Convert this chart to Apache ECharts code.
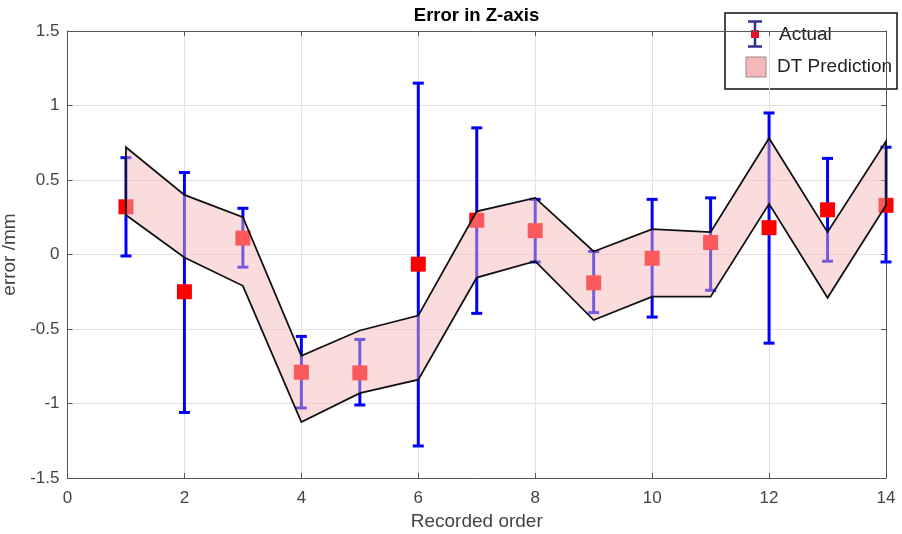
<!DOCTYPE html>
<html>
<head>
<meta charset="utf-8">
<script src="https://cdn.jsdelivr.net/npm/echarts@6/dist/echarts.min.js"></script>
<style>
html,body{margin:0;padding:0;background:#fff;}
#c{width:902px;height:534px;}
</style>
</head>
<body>
<div id="c"></div>
<script>
// ---- data ----
var order = [1,2,3,4,5,6,7,8,9,10,11,12,13,14];
var actual = [0.32,-0.25,0.11,-0.79,-0.795,-0.065,0.23,0.16,-0.19,-0.025,0.08,0.18,0.30,0.33];
var errHigh = [0.65,0.55,0.31,-0.55,-0.57,1.15,0.85,0.37,0.02,0.37,0.38,0.95,0.645,0.72];
var errLow = [-0.01,-1.06,-0.085,-1.03,-1.01,-1.285,-0.395,-0.05,-0.39,-0.42,-0.24,-0.595,-0.045,-0.05];
var predHigh = [0.72,0.40,0.25,-0.68,-0.51,-0.41,0.29,0.38,0.02,0.17,0.15,0.78,0.15,0.76];
var predLow = [0.265,-0.02,-0.21,-1.125,-0.93,-0.84,-0.155,-0.045,-0.44,-0.283,-0.283,0.34,-0.29,0.33];
var xTicks = [0,2,4,6,8,10,12,14];
var yTicks = [-1.5,-1,-0.5,0,0.5,1,1.5];
var titleText = 'Error in Z-axis';
var xName = 'Recorded order';
var yName = 'error /mm';
var legendNames = ['Actual','DT Prediction'];

var FONT = "'Liberation Sans', Arial, Helvetica, sans-serif";
var AX = '#555555';
var LBL = '#444444';

var chart = echarts.init(document.getElementById('c'), null, {renderer:'canvas'});

var xMin = xTicks[0], xMax = xTicks[xTicks.length-1], xInt = xTicks[1]-xTicks[0];
var yMin = yTicks[0], yMax = yTicks[yTicks.length-1], yInt = yTicks[1]-yTicks[0];

function baseAxisCommon(){
  return {
    axisLine:{show:true, onZero:false, lineStyle:{color:AX, width:1}},
    axisTick:{show:true, inside:true, length:5, lineStyle:{color:AX, width:1}}
  };
}

var option = {
  animation:false,
  backgroundColor:'#ffffff',
  grid:{left:67.5, right:16, top:31, bottom:56, containLabel:false, outerBoundsMode:'none'},
  xAxis:[
    Object.assign({
      type:'value', min:xMin, max:xMax, interval:xInt, position:'bottom',
      name:xName, nameLocation:'middle', nameGap:33,
      nameTextStyle:{fontFamily:FONT, fontSize:19, color:LBL},
      axisLabel:{fontFamily:FONT, fontSize:17, color:LBL, margin:12},
      splitLine:{show:true, lineStyle:{color:'#e3e3e3', width:1}}
    }, baseAxisCommon()),
    Object.assign({
      type:'value', min:xMin, max:xMax, interval:xInt, position:'top',
      axisLabel:{show:false}, splitLine:{show:false}
    }, baseAxisCommon())
  ],
  yAxis:[
    Object.assign({
      type:'value', min:yMin, max:yMax, interval:yInt, position:'left',
      name:yName, nameLocation:'middle', nameGap:40, nameRotate:90,
      nameTextStyle:{fontFamily:FONT, fontSize:19, color:LBL},
      axisLabel:{fontFamily:FONT, fontSize:17, color:LBL, margin:8},
      splitLine:{show:true, lineStyle:{color:'#e3e3e3', width:1}}
    }, baseAxisCommon()),
    Object.assign({
      type:'value', min:yMin, max:yMax, interval:yInt, position:'right',
      axisLabel:{show:false}, splitLine:{show:false}
    }, baseAxisCommon())
  ],
  series:[
    {
      type:'custom', name:legendNames[0], z:2,
      data: order.map(function(x,i){return [x, errLow[i], errHigh[i]];}),
      encode:{x:0, y:[1,2]},
      renderItem:function(params, api){
        var x = api.value(0);
        var lo = api.coord([x, api.value(1)]);
        var hi = api.coord([x, api.value(2)]);
        var hw = 5.5;
        var st = {stroke:'#0000ff', lineWidth:3};
        return {type:'group', children:[
          {type:'line', shape:{x1:lo[0], y1:lo[1], x2:hi[0], y2:hi[1]}, style:st},
          {type:'line', shape:{x1:lo[0]-hw, y1:lo[1], x2:lo[0]+hw, y2:lo[1]}, style:st},
          {type:'line', shape:{x1:hi[0]-hw, y1:hi[1], x2:hi[0]+hw, y2:hi[1]}, style:st}
        ]};
      }
    },
    {
      type:'scatter', name:legendNames[0], z:3,
      symbol:'rect', symbolSize:15,
      itemStyle:{color:'#ff0000', opacity:1},
      data: order.map(function(x,i){return [x, actual[i]];})
    },
    {
      type:'custom', name:legendNames[1], z:4,
      data: order.map(function(x,i){return [x, predLow[i], predHigh[i]];}),
      encode:{x:0, y:[1,2]},
      renderItem:function(params, api){
        if (params.dataIndex !== 0) return null;
        var pts = [];
        for (var i=0;i<order.length;i++) pts.push(api.coord([order[i], predHigh[i]]));
        for (var j=order.length-1;j>=0;j--) pts.push(api.coord([order[j], predLow[j]]));
        return {type:'polygon', shape:{points:pts},
          style:{fill:'rgba(245,184,186,0.49)', stroke:'#111111', lineWidth:1.8, lineJoin:'miter'}};
      }
    }
  ],
  graphic:[
    {type:'text', x:476.5, y:16, z:10,
      style:{text:titleText, font:'bold 18.5px '+FONT, fill:'#000', textAlign:'center', textVerticalAlign:'middle'}},
    {type:'group', z:20, children:[
      {type:'rect', shape:{x:725, y:13, width:172, height:76},
        style:{fill:'#ffffff', stroke:'#111111', lineWidth:1.5}},
      {type:'line', shape:{x1:755, y1:21.5, x2:755, y2:46.5}, style:{stroke:'#30308f', lineWidth:2.5}},
      {type:'line', shape:{x1:748, y1:21.5, x2:762, y2:21.5}, style:{stroke:'#30308f', lineWidth:2.5}},
      {type:'line', shape:{x1:748, y1:46.5, x2:762, y2:46.5}, style:{stroke:'#30308f', lineWidth:2.5}},
      {type:'rect', shape:{x:751, y:30, width:8, height:8}, style:{fill:'#e8102a'}},
      {type:'text', x:779, y:35, style:{text:legendNames[0], font:'19px '+FONT, fill:'#222', textVerticalAlign:'middle'}},
      {type:'rect', shape:{x:746, y:57, width:20, height:20},
        style:{fill:'rgb(245,184,186)', stroke:'#9a8a8a', lineWidth:1}},
      {type:'text', x:777, y:67, style:{text:legendNames[1], font:'19px '+FONT, fill:'#222', textVerticalAlign:'middle'}}
    ]}
  ]
};
chart.setOption(option);
</script>
</body>
</html>
